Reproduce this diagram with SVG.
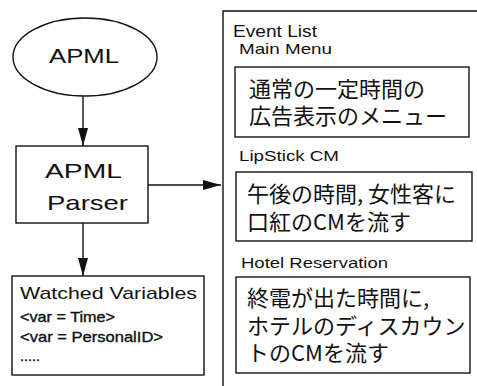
<svg xmlns="http://www.w3.org/2000/svg" width="477" height="386" viewBox="0 0 477 386">
  <style>
    .shape { fill: #fff; stroke: #111; stroke-width: 1.4; }
    .line { fill: none; stroke: #111; stroke-width: 1.4; }
    .lat { font-family: "Liberation Sans", Arial, sans-serif; fill: #111; }
    .jp { font-family: "Noto Sans CJK JP", "Noto Sans CJK SC", sans-serif; fill: #111; font-size: 22px; }
    .big { font-size: 21px; }
    .mid { font-size: 17px; }
    .lbl { font-size: 15px; }
    .var { font-size: 14.5px; stroke: #111; stroke-width: 0.35; }
  </style>
  <defs>
    <marker id="arrow" viewBox="0 0 18 10" refX="18" refY="5" markerWidth="18" markerHeight="10" markerUnits="userSpaceOnUse" orient="auto">
      <path d="M0,0 L18,5 L0,10 Z" fill="#111"/>
    </marker>
  </defs>
  <rect width="477" height="386" fill="#fff"/>

  <!-- connectors -->
  <g id="connectors">
    <line class="line" x1="83" y1="96" x2="83" y2="146" marker-end="url(#arrow)"/>
    <line class="line" x1="148" y1="185" x2="221" y2="185" marker-end="url(#arrow)"/>
    <line class="line" x1="83" y1="223" x2="83" y2="276" marker-end="url(#arrow)"/>
  </g>

  <!-- source document -->
  <g id="apml">
    <ellipse class="shape" cx="85" cy="57" rx="72" ry="39"/>
    <text class="lat big" x="49" y="63" textLength="70" lengthAdjust="spacingAndGlyphs">APML</text>
  </g>

  <!-- parser -->
  <g id="parser">
    <rect class="shape" x="16" y="146" width="132" height="77"/>
    <text class="lat big" x="45" y="178" textLength="77" lengthAdjust="spacingAndGlyphs">APML</text>
    <text class="lat big" x="47" y="210" textLength="81" lengthAdjust="spacingAndGlyphs">Parser</text>
  </g>

  <!-- watched variables -->
  <g id="watched">
    <rect class="shape" x="12" y="276" width="192" height="99"/>
    <text class="lat mid" x="20" y="299" textLength="177" lengthAdjust="spacingAndGlyphs" font-size="18">Watched Variables</text>
    <text class="lat var" x="20" y="322" textLength="95" lengthAdjust="spacingAndGlyphs">&lt;var = Time&gt;</text>
    <text class="lat var" x="20" y="342" textLength="143" lengthAdjust="spacingAndGlyphs">&lt;var = PersonalID&gt;</text>
    <text class="lat var" x="20" y="361">.....</text>
  </g>

  <!-- event list panel -->
  <g id="event-list">
    <path class="line" d="M223,386 V11 H477"/>
    <text class="lat mid" x="233" y="37" textLength="84" lengthAdjust="spacingAndGlyphs">Event List</text>
  </g>

  <g id="main-menu">
    <text class="lat lbl" x="239" y="54" textLength="93" lengthAdjust="spacingAndGlyphs">Main Menu</text>
    <rect class="shape" x="235" y="67" width="234" height="70"/>
    <text class="jp"><tspan x="249" y="97">通常の一定時間の</tspan><tspan x="249" y="124">広告表示のメニュー</tspan></text>
  </g>

  <g id="lipstick-cm">
    <text class="lat lbl" x="239" y="161" textLength="100" lengthAdjust="spacingAndGlyphs">LipStick CM</text>
    <rect class="shape" x="236" y="172" width="236" height="69"/>
    <text class="jp"><tspan x="247" y="202">午後の時間, 女性客に</tspan><tspan x="247" y="230">口紅のCMを流す</tspan></text>
  </g>

  <g id="hotel-reservation">
    <text class="lat lbl" x="241" y="268" textLength="147" lengthAdjust="spacingAndGlyphs">Hotel Reservation</text>
    <rect class="shape" x="236" y="277" width="234" height="96"/>
    <text class="jp"><tspan x="247" y="306">終電が出た時間に,</tspan><tspan x="247" y="334">ホテルのディスカウン</tspan><tspan x="247" y="361">トのCMを流す</tspan></text>
  </g>
</svg>
